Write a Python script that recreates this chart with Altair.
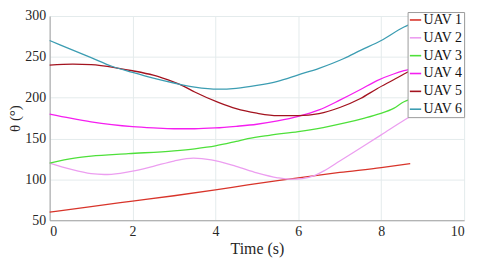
import altair as alt
import pandas as pd

names = ["UAV 1", "UAV 2", "UAV 3", "UAV 4", "UAV 5", "UAV 6"]
colors = ["#d8342a", "#ec9ef0", "#4ee03a", "#f51ef0", "#a3131f", "#3c9db2"]

t1 = [0, 1, 2, 3, 4, 4.78, 5.5, 6, 7, 8, 8.7]
v1 = [60, 66.8, 73.4, 80, 87.2, 93.2, 98.5, 102, 108.5, 114.5, 119.3]

t2 = [0, 0.5, 1, 1.32, 1.7, 2, 2.5, 3, 3.47, 3.9, 4.5, 5, 5.5, 5.8, 6.1, 6.4, 6.62, 7, 7.5, 8, 8.57, 8.7]
v2 = [120, 112.5, 107, 106, 107.5, 110, 116, 122.5, 126, 124, 116, 108, 102, 100.3, 101, 105, 110.5, 122.5, 138.5, 154.5, 173, 177]

t3 = [0, 0.6, 1, 1.9, 3, 3.5, 4, 4.5, 4.78, 5.3, 6, 6.6, 7.18, 7.6, 7.97, 8.3, 8.55, 8.7]
v3 = [120, 126, 128.5, 131.5, 135, 137.5, 141, 146.5, 149.8, 154, 158.5, 163.5, 169.7, 175, 180.5, 187, 195, 198]

t4 = [0, 0.5, 1, 1.5, 2, 2.5, 3, 3.5, 4, 4.5, 5, 5.5, 6, 6.5, 7, 7.5, 7.9, 8.3, 8.55, 8.7]
v4 = [180, 175, 170.5, 167, 164.5, 163, 162, 162, 163, 165, 167.5, 171.5, 177, 185, 197, 210, 221, 229, 233, 235]

t5 = [0, 0.56, 1, 1.67, 2, 2.5, 3, 3.19, 3.5, 4.07, 4.5, 5, 5.5, 6, 6.5, 7, 7.5, 7.9, 8.3, 8.55, 8.7]
v5 = [240, 241, 240.5, 236, 233, 227.5, 219, 215.2, 207, 194.3, 186.5, 181, 178, 178, 180.5, 188, 199, 211, 222, 229, 233]

t6 = [0, 0.5, 1, 1.5, 2, 2.5, 3, 3.5, 4.07, 4.5, 5, 5.5, 6, 6.5, 7.1, 7.5, 8, 8.55, 8.7]
v6 = [270, 259.5, 249, 238.5, 231, 224, 218, 213, 210.4, 211.5, 215, 220, 228, 236, 248, 258, 270, 286.5, 290]

series = [(t1, v1), (t2, v2), (t3, v3), (t4, v4), (t5, v5), (t6, v6)]
rows = []
for name, (ts, vs) in zip(names, series):
    for t, v in zip(ts, vs):
        rows.append({"Time": t, "theta": v, "UAV": name})
df = pd.DataFrame(rows)

font = "'Liberation Serif', 'Times New Roman', serif"

chart = alt.Chart(df).mark_line(strokeWidth=1.3, interpolate="monotone").encode(
    x=alt.X("Time:Q", scale=alt.Scale(domain=[0, 10], nice=False),
            axis=alt.Axis(title="Time (s)", values=[0, 2, 4, 6, 8, 10], format="d")),
    y=alt.Y("theta:Q", scale=alt.Scale(domain=[50, 300], nice=False),
            axis=alt.Axis(title="θ (°)", values=[50, 100, 150, 200, 250, 300], format="d")),
    color=alt.Color("UAV:N", scale=alt.Scale(domain=names, range=colors),
                    legend=alt.Legend(title=None, orient="none", legendX=361, legendY=-4,
                                      symbolType="stroke", symbolSize=130, symbolStrokeWidth=1.6,
                                      labelFont=font, labelFontSize=14, labelColor="#111111",
                                      labelOffset=1, rowPadding=4, padding=1, fillColor="white",
                                      strokeColor="#9a9a9a", cornerRadius=0)),
    detail="UAV:N",
).properties(
    width=418, height=206,
    autosize="none",
    padding={"left": 42, "top": 7, "right": 12, "bottom": 38},
).configure_axis(
    labelFont=font, labelFontSize=14, labelColor="#262626",
    titleFont=font, titleFontSize=15, titleFontWeight="normal", titleColor="#262626",
    domainColor="#a0a0a0", domainWidth=1, ticks=False, labelPadding=4,
    gridColor="#e4ebec", gridWidth=1,
).configure_axisY(
    titlePadding=2,
).configure_axisX(
    titlePadding=3, titleFontSize=16,
).configure_view(stroke=None)

chart.save("out.html", embed_options={"renderer": "svg", "actions": False})
